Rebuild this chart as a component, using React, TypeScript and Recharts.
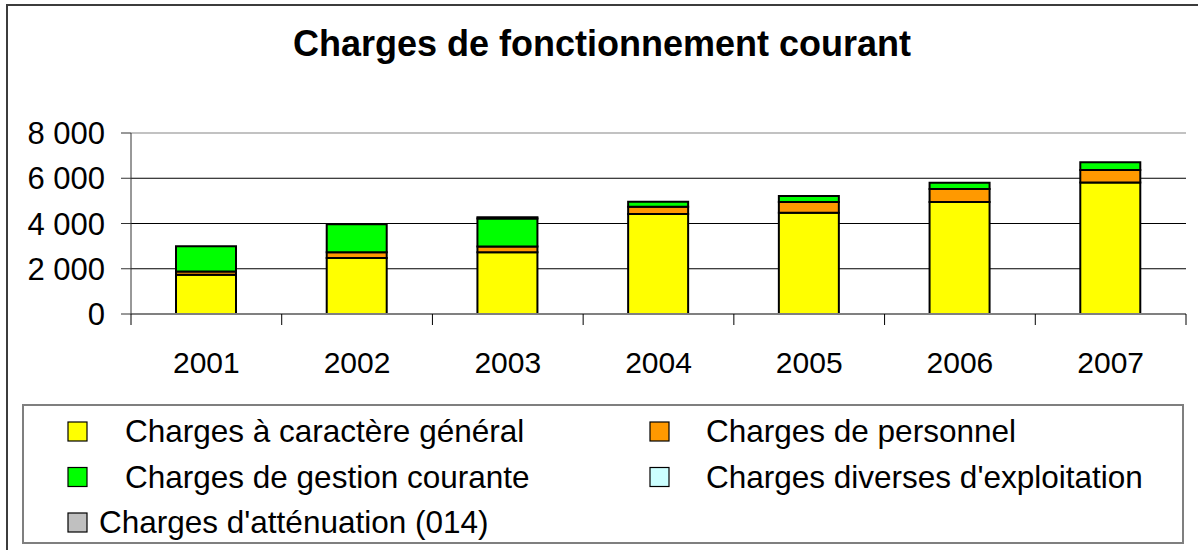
import React from 'react';
import { BarChart, Bar, XAxis, YAxis, CartesianGrid, ReferenceLine } from 'recharts';

const years = ['2001', '2002', '2003', '2004', '2005', '2006', '2007'];
const generalValues = [1730, 2470, 2730, 4415, 4475, 4950, 5810];
const personnelValues = [150, 255, 250, 325, 475, 575, 560];
const gestionValues = [1110, 1245, 1240, 220, 265, 280, 340];
const diversesValues = [0, 0, 60, 0, 0, 0, 0];
const attenuationValues = [0, 0, 0, 0, 0, 0, 0];
const yTicks = [0, 2000, 4000, 6000, 8000];

const series = [
    { key: 'general', name: 'Charges à caractère général', color: '#FFFF00', values: generalValues },
    { key: 'personnel', name: 'Charges de personnel', color: '#FF9900', values: personnelValues },
    { key: 'gestion', name: 'Charges de gestion courante', color: '#00FF00', values: gestionValues },
    { key: 'diverses', name: "Charges diverses d'exploitation", color: '#CCFFFF', values: diversesValues },
    { key: 'attenuation', name: "Charges d'atténuation (014)", color: '#C0C0C0', values: attenuationValues },
];

const chartData = years.map((year, i) => {
    const row: any = { year };
    series.forEach((s) => { row[s.key] = s.values[i]; });
    return row;
});

const FONT = '"Liberation Sans", Arial, sans-serif';

const formatThousands = (v: number) => String(v).replace(/\B(?=(\d{3})+(?!\d))/g, ' ');

const X_TICK_MARGIN = 38;

const YearTick = (props: any) => {
    const { x, y, payload, index, width } = props;
    const half = payload?.offset || width / (2 * years.length);
    const axisY = y - X_TICK_MARGIN;
    return (
        <g>
            <line x1={x - half} x2={x - half} y1={axisY} y2={axisY + 11} stroke="#000" strokeWidth={1} />
            {index === years.length - 1 && (
                <line x1={x + half} x2={x + half} y1={axisY} y2={axisY + 11} stroke="#000" strokeWidth={1} />
            )}
            <text x={x} y={y} dy="0.71em" textAnchor="middle" fill="#000" fontSize={30} fontFamily={FONT}>
                {payload.value}
            </text>
        </g>
    );
};

// legend layout: two columns, last entry on its own row
const legendRows = [
    { y: 422, items: [{ s: 0, sx: 68, tx: 125 }, { s: 1, sx: 650, tx: 706 }] },
    { y: 467.5, items: [{ s: 2, sx: 68, tx: 125 }, { s: 3, sx: 650, tx: 706 }] },
    { y: 513, items: [{ s: 4, sx: 68, tx: 99 }] },
];

const App = () => {
    return (
        <div style={{ position: 'absolute', left: 0, top: 0, width: 1198, height: 550, overflow: 'hidden', background: '#fff', fontFamily: FONT }}>
            {/* chart area frame */}
            <div style={{ position: 'absolute', left: 6, top: 4, width: 1300, height: 700, borderLeft: '2px solid #3c3c3c', borderTop: '2px solid #3c3c3c' }} />

            <div style={{ position: 'absolute', left: 0, top: 0 }}>
                <BarChart
                    width={1198}
                    height={400}
                    data={chartData}
                    margin={{ top: 133, right: 12, left: 11, bottom: 26 }}
                    barSize={60}
                >
                    <CartesianGrid vertical={false} stroke="#000" strokeWidth={1} />
                    <ReferenceLine y={8000} stroke="#d9d9d9" strokeWidth={1.5} />
                    <XAxis
                        dataKey="year"
                        height={60}
                        stroke="#808080"
                        strokeWidth={2}
                        tickLine={false}
                        tickSize={0}
                        tickMargin={X_TICK_MARGIN}
                        tick={<YearTick />}
                        interval={0}
                    />
                    <YAxis
                        width={120}
                        domain={[0, 8000]}
                        ticks={yTicks}
                        tickFormatter={formatThousands}
                        stroke="#333"
                        tickSize={10}
                        tickMargin={16}
                        tick={{ fill: '#000', fontSize: 31, fontFamily: FONT }}
                        interval={0}
                    />
                    {series.map((s) => (
                        <Bar
                            key={s.key}
                            dataKey={s.key}
                            name={s.name}
                            stackId="a"
                            fill={s.color}
                            stroke="#000"
                            strokeWidth={2}
                            isAnimationActive={false}
                        />
                    ))}
                </BarChart>
            </div>

            <svg width={1198} height={550} style={{ position: 'absolute', left: 0, top: 0, pointerEvents: 'none' }}>
                <text x={602} y={56} textAnchor="middle" fontSize={36} fontWeight="bold" fontFamily={FONT} fill="#000">
                    Charges de fonctionnement courant
                </text>
                <rect x={23} y={405} width={1160} height={138} fill="none" stroke="#7f7f7f" strokeWidth={2} />
                {legendRows.map((row, ri) =>
                    row.items.map((it) => (
                        <g key={`${ri}-${it.s}`}>
                            <rect x={it.sx} y={row.y} width={19} height={19} fill={series[it.s].color} stroke="#000" strokeWidth={1.2} />
                            <text x={it.tx} y={row.y + 20} fontSize={31.5} fontFamily={FONT} fill="#000">
                                {series[it.s].name}
                            </text>
                        </g>
                    ))
                )}
            </svg>
        </div>
    );
};

export default App;
